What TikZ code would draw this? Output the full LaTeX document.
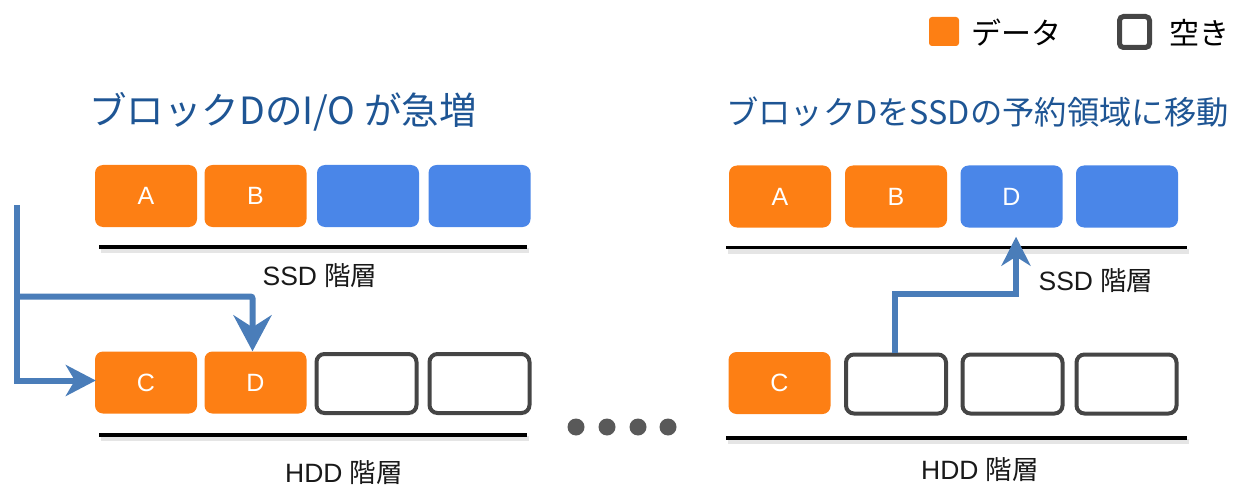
\documentclass[tikz,border=0pt]{standalone}
\usepackage{fontspec}
\setmainfont{Liberation Sans}
\newfontfamily\cjk{Noto Sans CJK JP}
\usetikzlibrary{arrows.meta,calc}
\definecolor{dorange}{HTML}{FD7F14}
\definecolor{fblue}{HTML}{4A86E8}
\definecolor{eborder}{HTML}{454545}
\definecolor{arrblue}{HTML}{4A7DB9}
\definecolor{ttlblue}{HTML}{1E5594}
\definecolor{dotgray}{HTML}{595959}
\tikzset{
  blk/.style={rounded corners=8pt, minimum width=102pt, minimum height=62pt, inner sep=0pt, font=\fontsize{25}{25}\selectfont, text=white},
  dbox/.style={blk, fill=dorange},
  fbox/.style={blk, fill=fblue},
  ebox/.style={blk, draw=eborder, line width=4pt, fill=white, minimum width=100pt, minimum height=59pt},
  tier/.style={line width=3.5pt, black},
  tiershadow/.style={line width=5pt, black!10},
  lbl/.style={font=\fontsize{26.5}{26.5}\selectfont, text=black!90, inner sep=0pt},
  ttl/.style={text=ttlblue, anchor=west, inner sep=0pt},
  conn/.style={draw=arrblue, line width=6pt},
}
\begin{document}
\begin{tikzpicture}[x=1pt,y=-1pt]
\useasboundingbox (0,0) rectangle (1241,497);
% legend
\node[fill=dorange, rounded corners=3pt, minimum width=30pt, minimum height=29pt, inner sep=0pt] (legd) at (944,31.5) {};
\node[anchor=west, inner sep=0pt, font=\cjk\fontsize{30}{30}\selectfont] (legdt) at (971,33) {データ};
\node[draw=eborder, line width=5pt, rounded corners=4pt, minimum width=30pt, minimum height=31pt, inner sep=0pt] (lege) at (1134.5,32) {};
\node[anchor=west, inner sep=0pt, font=\cjk\fontsize{30}{30}\selectfont] (leget) at (1169,33) {空き};
% titles
\node[ttl, font=\cjk\fontsize{37.5}{37.5}\selectfont] (t1) at (89,112) {ブロックDのI/O が急増};
\node[ttl, font=\cjk\fontsize{32.3}{32.3}\selectfont] (t2) at (726,112) {ブロックDをSSDの予約領域に移動};
% left panel
\node[dbox] (lA) at (146,196) {A};
\node[dbox] (lB) at (255.5,196) {B};
\node[fbox] (lS3) at (368,196) {};
\node[fbox] (lS4) at (479.5,196) {};
\draw[tiershadow] (101,250.5) -- (529,250.5);
\draw[tier] (99,247) -- (527,247);
\node[lbl] (lssd) at (320,276) {SSD {\cjk 階層}};
\node[dbox] (lC) at (146,382.5) {C};
\node[dbox] (lD) at (255.5,382.5) {D};
\node[ebox] (lE3) at (366.5,383.5) {};
\node[ebox] (lE4) at (479.5,383.5) {};
\draw[tiershadow] (101,438.5) -- (529,438.5);
\draw[tier] (99,435) -- (527,435);
\node[lbl] (lhdd) at (344,473) {HDD {\cjk 階層}};
% left arrows
\coordinate (src) at (17,205);
\coordinate (br) at (17,296.5);
\draw[conn, -{Stealth[length=30pt,width=31pt,inset=9pt]}] (src) |- ($(lC.west)+(1,-2)$);
\draw[conn, rounded corners=2pt, -{Stealth[length=36pt,width=38pt,inset=12pt]}] (br) -| ($(lD.north)+(-3,0)$);
% dots
\foreach \i/\xx in {1/576,2/607,3/638,4/668}
  \fill[dotgray] (\xx,427) circle[radius=8.5pt];
% right panel
\node[dbox] (rA) at (780,196.5) {A};
\node[dbox] (rB) at (896,196.5) {B};
\node[fbox] (rD) at (1011.5,196.5) {D};
\node[fbox] (rS4) at (1127,196.5) {};
\draw[tiershadow] (728,251) -- (1189,251);
\draw[tier] (726,247.5) -- (1187,247.5);
\node[lbl] (rssd) at (1096,281) {SSD {\cjk 階層}};
\node[dbox] (rC) at (779.5,383) {C};
\node[ebox] (rE2) at (896,384) {};
\node[ebox] (rE3) at (1012.5,384) {};
\node[ebox] (rE4) at (1126.5,384) {};
\draw[tiershadow] (728,441.5) -- (1189,441.5);
\draw[tier] (726,438) -- (1187,438);
\node[lbl] (rhdd) at (980,470) {HDD {\cjk 階層}};
% right arrow
\coordinate (rturn) at (895,294);
\draw[conn, line width=5.5pt, -{Stealth[length=29pt,width=29pt,inset=9pt]}]
  ($(rE2.north)+(-1,0)$) -- (rturn) -| ($(rD.south)+(4.5,9)$);
\end{tikzpicture}
\end{document}
